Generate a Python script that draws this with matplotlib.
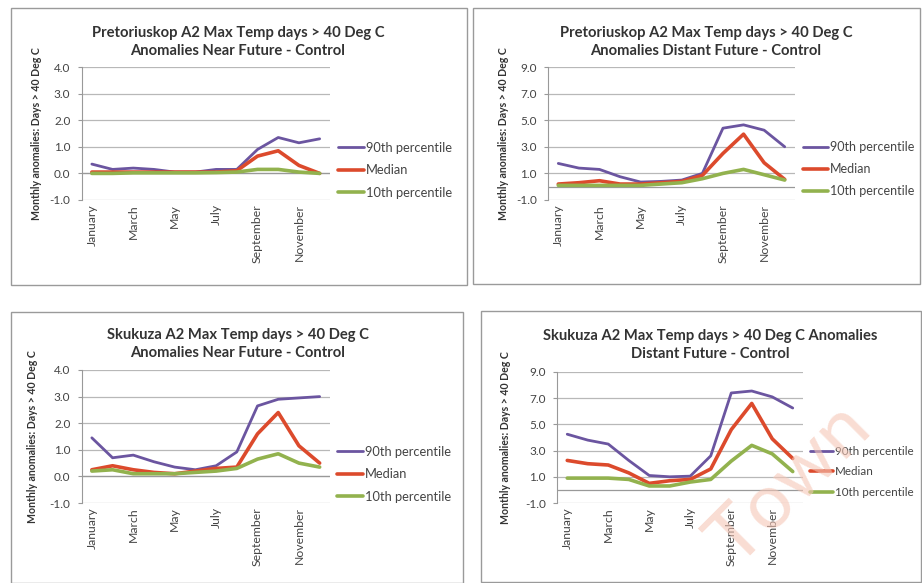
import matplotlib
matplotlib.use("Agg")
import matplotlib.pyplot as plt
from matplotlib.patches import Rectangle

plt.rcParams['font.family'] = ['Lato', 'DejaVu Sans']

months = ["January", "February", "March", "April", "May", "June", "July",
          "August", "September", "October", "November", "December"]
shown_months = ["January", "March", "May", "July", "September", "November"]
series_names = ["90th percentile", "Median", "10th percentile"]

# Pretoriuskop near future
pk_near_p90 = [0.35, 0.15, 0.2, 0.15, 0.05, 0.05, 0.15, 0.15, 0.9, 1.35, 1.15, 1.3]
pk_near_med = [0.05, 0.05, 0.05, 0.05, 0.05, 0.05, 0.05, 0.1, 0.65, 0.85, 0.3, 0.0]
pk_near_p10 = [0.0, 0.0, 0.02, 0.02, 0.02, 0.02, 0.03, 0.05, 0.15, 0.15, 0.05, 0.0]
# Pretoriuskop distant future
pk_dist_p90 = [1.75, 1.4, 1.3, 0.75, 0.35, 0.4, 0.5, 1.0, 4.4, 4.65, 4.25, 3.0]
pk_dist_med = [0.2, 0.3, 0.45, 0.2, 0.2, 0.3, 0.4, 0.85, 2.5, 3.95, 1.8, 0.55]
pk_dist_p10 = [0.1, 0.1, 0.1, 0.1, 0.1, 0.2, 0.3, 0.6, 1.0, 1.3, 0.9, 0.5]
# Skukuza near future
sk_near_p90 = [1.45, 0.7, 0.8, 0.55, 0.35, 0.25, 0.4, 0.92, 2.65, 2.9, 2.95, 3.0]
sk_near_med = [0.25, 0.4, 0.25, 0.15, 0.1, 0.2, 0.3, 0.35, 1.6, 2.4, 1.15, 0.5]
sk_near_p10 = [0.2, 0.25, 0.1, 0.1, 0.1, 0.15, 0.2, 0.3, 0.65, 0.85, 0.5, 0.35]
# Skukuza distant future
sk_dist_p90 = [4.25, 3.8, 3.5, 2.25, 1.1, 1.0, 1.05, 2.6, 7.4, 7.55, 7.1, 6.25]
sk_dist_med = [2.25, 2.0, 1.9, 1.3, 0.5, 0.7, 0.8, 1.6, 4.6, 6.6, 3.9, 2.4]
sk_dist_p10 = [0.9, 0.9, 0.9, 0.8, 0.3, 0.3, 0.6, 0.8, 2.2, 3.4, 2.75, 1.4]

titles = [
    "Pretoriuskop A2 Max Temp days > 40 Deg C\nAnomalies Near Future - Control",
    "Pretoriuskop A2 Max Temp days > 40 Deg C\nAnomalies Distant Future - Control",
    "Skukuza A2 Max Temp days > 40 Deg C\nAnomalies Near Future - Control",
    "Skukuza A2 Max Temp days > 40 Deg C Anomalies\nDistant Future - Control",
]
ylabel = "Monthly anomalies: Days > 40 Deg C"
yticks_near = [-1.0, 0.0, 1.0, 2.0, 3.0, 4.0]
yticks_dist = [-1.0, 1.0, 3.0, 5.0, 7.0, 9.0]

W, H = 922, 583
fig = plt.figure(figsize=(W / 100, H / 100), dpi=100)
fig.patch.set_facecolor("white")

colors = ["#6B55A0", "#DC4A2C", "#92B24E"]
lws = [2.0, 2.6, 2.6]

def px_axes(x0, x1, ytop, ybot):
    return fig.add_axes([x0 / W, 1 - ybot / H, (x1 - x0) / W, (ybot - ytop) / H])

panels = [
    dict(box=(11, 8, 467, 285), ax=(81.5, 330, 67, 200), data=(pk_near_p90, pk_near_med, pk_near_p10),
         yt=yticks_near, title_xy=(238, 42), leg=(338, 142), ylab_x=36, legfs=9.3),
    dict(box=(473, 8, 920, 284), ax=(548, 795, 67, 200), data=(pk_dist_p90, pk_dist_med, pk_dist_p10),
         yt=yticks_dist, title_xy=(706, 42), leg=(803, 141), ylab_x=503, legfs=9.0),
    dict(box=(11, 312, 463, 583), ax=(81.5, 330, 370, 503), data=(sk_near_p90, sk_near_med, sk_near_p10),
         yt=yticks_near, title_xy=(238, 344), leg=(337, 446), ylab_x=33, legfs=9.3),
    dict(box=(481, 311, 921, 582), ax=(557, 803, 372, 503), data=(sk_dist_p90, sk_dist_med, sk_dist_p10),
         yt=yticks_dist, title_xy=(710, 345), leg=(810, 446), ylab_x=505, legfs=8.4),
]

for i, p in enumerate(panels):
    bx0, by0, bx1, by1 = p["box"]
    fig.patches.append(Rectangle((bx0 / W, 1 - by1 / H), (bx1 - bx0) / W, (by1 - by0) / H,
                                 transform=fig.transFigure, fill=False,
                                 edgecolor="#9a9a9a", linewidth=1.0))
    ax = px_axes(*p["ax"])
    x = list(range(len(months)))
    for vals, name, c, lw in zip(p["data"], series_names, colors, lws):
        ax.plot(x, vals, color=c, lw=lw, label=name, solid_capstyle="round", zorder=3)
    yt = p["yt"]
    ax.set_ylim(yt[0], yt[-1])
    ax.set_xlim(-0.5, len(months) - 0.5)
    ax.set_yticks(yt)
    ax.set_yticklabels([f"{v:.1f}" for v in yt], fontsize=8.5, color="#444444")
    for v in yt:
        ax.axhline(v, color="#b8b8b8", lw=0.9, zorder=1)
    ax.axhline(0, color="#999999", lw=0.9, zorder=1)
    for s in ["top", "right", "bottom"]:
        ax.spines[s].set_visible(False)
    ax.spines["left"].set_color("#999999")
    ax.tick_params(axis="y", length=3, color="#999999", pad=5)
    ax.set_xticks([months.index(m) for m in shown_months])
    ax.set_xticklabels(shown_months, rotation=90, fontsize=8.8, color="#444444")
    ax.tick_params(axis="x", length=0, pad=3)
    ax.set_facecolor("none")
    fig.text(p["ylab_x"] / W, 1 - (p["ax"][2] + p["ax"][3]) / 2 / H, ylabel, rotation=90,
             fontsize=7.6, fontweight="bold", color="#333333", ha="center", va="center")
    tx, ty = p["title_xy"]
    fig.text(tx / W, 1 - ty / H, titles[i], fontsize=10.6, fontweight="bold",
             color="#333333", ha="center", va="center", linespacing=1.35)
    lx, ly = p["leg"]
    ax.legend(loc="upper left", bbox_to_anchor=(lx / W, 1 - ly / H), bbox_transform=fig.transFigure,
              frameon=False, fontsize=p["legfs"], handlelength=2.0, handletextpad=0.15,
              labelspacing=0.8, borderpad=0, borderaxespad=0, labelcolor="#444444")

fig.text(790 / W, 1 - 484 / H, "Town", rotation=45, fontsize=56, color="#F5C6B6", alpha=0.6,
         ha="center", va="center", zorder=10)

fig.savefig("out.png", dpi=100, facecolor="white")
